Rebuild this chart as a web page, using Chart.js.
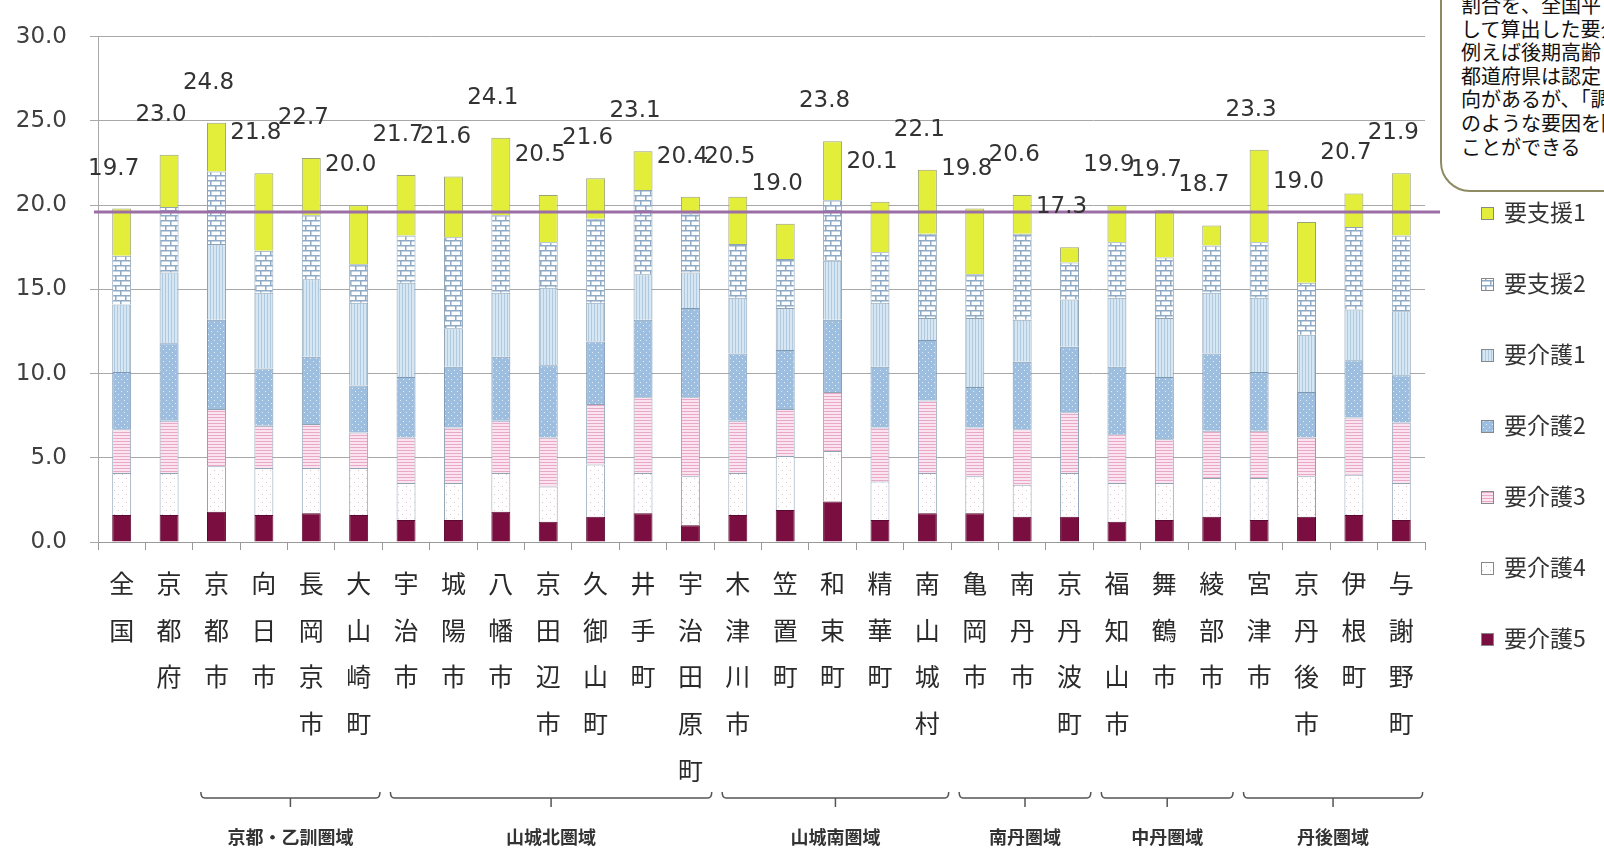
<!DOCTYPE html>
<html lang="ja">
<head>
<meta charset="utf-8">
<title>要介護認定率</title>
<script src="https://cdn.jsdelivr.net/npm/chart.js@4.4.0/dist/chart.umd.min.js"></script>
<style>
  html, body { margin: 0; padding: 0; background: #fff; overflow: hidden; }
  #wrap { position: relative; width: 1604px; height: 850px; }
  #note {
    position: absolute; left: 1440px; top: -40px; width: 260px; height: 232px;
    box-sizing: border-box; border: 2.5px solid #8c8b62; border-radius: 30px;
    background: #fff; padding: 31px 0 0 19px;
    font-family: "Noto Sans CJK JP", sans-serif; font-size: 20px; line-height: 23.6px;
    color: #111; white-space: nowrap;
  }
</style>
</head>
<body>
<div id="wrap">
  <canvas id="chart" width="1604" height="850"></canvas>
  <div id="note">
    <div>割合を、全国平</div>
    <div>して算出した要介</div>
    <div>例えば後期高齢</div>
    <div>都道府県は認定</div>
    <div>向があるが、「調</div>
    <div>のような要因を除</div>
    <div>ことができる</div>
  </div>
</div>
<script>
// 市町村（縦書きラベル）
const categories = ['全国', '京都府', '京都市', '向日市', '長岡京市', '大山崎町', '宇治市', '城陽市',
  '八幡市', '京田辺市', '久御山町', '井手町', '宇治田原町', '木津川市', '笠置町', '和束町', '精華町',
  '南山城村', '亀岡市', '南丹市', '京丹波町', '福知山市', '舞鶴市', '綾部市', '宮津市', '京丹後市',
  '伊根町', '与謝野町'];

// 要介護度別の認定率（%）下から順に積み上げ
const kaigo5 = [1.6, 1.6, 1.8, 1.6, 1.7, 1.6, 1.3, 1.3, 1.8, 1.2, 1.5, 1.7, 1.0, 1.6, 1.9, 2.4, 1.3, 1.7, 1.7, 1.5, 1.5, 1.2, 1.3, 1.5, 1.3, 1.5, 1.6, 1.3];
const kaigo4 = [2.5, 2.5, 2.7, 2.8, 2.7, 2.8, 2.2, 2.2, 2.3, 2.1, 3.1, 2.4, 2.9, 2.5, 3.2, 3.0, 2.3, 2.4, 2.2, 1.9, 2.6, 2.3, 2.2, 2.3, 2.5, 2.4, 2.4, 2.2];
const kaigo3 = [2.6, 3.1, 3.4, 2.5, 2.6, 2.1, 2.7, 3.3, 3.1, 2.9, 3.6, 4.5, 4.7, 3.1, 2.8, 3.5, 3.2, 4.3, 2.9, 3.3, 3.6, 2.9, 2.6, 2.8, 2.8, 2.3, 3.4, 3.6];
const kaigo2 = [3.4, 4.6, 5.3, 3.4, 4.0, 2.8, 3.6, 3.6, 3.8, 4.3, 3.7, 4.6, 5.3, 4.0, 3.5, 4.3, 3.6, 3.6, 2.4, 4.0, 3.9, 4.0, 3.7, 4.6, 3.5, 2.7, 3.4, 2.8];
const kaigo1 = [4.0, 4.2, 4.5, 4.5, 4.6, 4.9, 5.6, 2.3, 3.8, 4.6, 2.3, 2.7, 2.1, 3.3, 2.5, 3.5, 3.8, 1.3, 4.1, 2.5, 2.8, 4.1, 3.5, 3.6, 4.4, 3.4, 3.0, 3.8];
const shien2 = [2.9, 3.9, 4.3, 2.5, 3.8, 2.3, 2.8, 5.4, 4.6, 2.7, 5.0, 5.0, 3.5, 3.2, 2.9, 3.6, 3.0, 5.0, 2.6, 5.1, 2.2, 3.3, 3.6, 2.8, 3.3, 3.1, 4.9, 4.5];
const shien1 = [2.8, 3.1, 2.9, 4.6, 3.4, 3.5, 3.6, 3.6, 4.6, 2.8, 2.4, 2.3, 1.0, 2.8, 2.1, 3.5, 3.0, 3.8, 3.9, 2.3, 0.9, 2.2, 2.8, 1.2, 5.5, 3.6, 2.0, 3.7];

// 棒の上に表示された合計値
const totals = [19.7, 23.0, 24.8, 21.8, 22.7, 20.0, 21.7, 21.6, 24.1, 20.5, 21.6, 23.1, 20.4, 20.5, 19.0,
  23.8, 20.1, 22.1, 19.8, 20.6, 17.3, 19.9, 19.7, 18.7, 23.3, 19.0, 20.7, 21.9];

// 紫の横線
const refLine = 19.6;

// 圏域（カテゴリ番号の範囲）
const regionNames = ['京都・乙訓圏域', '山城北圏域', '山城南圏域', '南丹圏域', '中丹圏域', '丹後圏域'];
const regionFirst = [2, 6, 13, 18, 21, 24];
const regionLast = [5, 12, 17, 20, 23, 27];

const yTicks = [0, 5, 10, 15, 20, 25, 30];

function makePattern(bg, w, h, draw) {
  const c = document.createElement('canvas');
  c.width = w; c.height = h;
  const g = c.getContext('2d');
  g.fillStyle = bg;
  g.fillRect(0, 0, w, h);
  if (draw) draw(g);
  return g.createPattern(c, 'repeat');
}

const fills = {
  shien1: '#e3ee3a',
  shien2: makePattern('#ffffff', 10, 10, g => {
    g.fillStyle = '#8eaac6';
    g.fillRect(0, 0, 10, 1.5);
    g.fillRect(0, 5, 10, 1.5);
    g.fillRect(0, 0, 1.5, 5);
    g.fillRect(5, 5, 1.5, 5);
  }),
  kaigo1: makePattern('#d6e7f3', 3, 3, g => {
    g.fillStyle = '#b0cae0';
    g.fillRect(0, 0, 1, 3);
  }),
  kaigo2: makePattern('#9dbedf', 6, 6, g => {
    g.fillStyle = '#e2eef9';
    g.fillRect(1, 1, 1, 1);
    g.fillRect(4, 4, 1, 1);
  }),
  kaigo3: makePattern('#fbe4ef', 3, 3, g => {
    g.fillStyle = '#e8a9c8';
    g.fillRect(0, 0, 3, 1);
  }),
  kaigo4: makePattern('#ffffff', 8, 8, g => {
    g.fillStyle = '#dcc0cc';
    g.fillRect(2, 2, 1, 1);
    g.fillRect(6, 6, 1, 1);
  }),
  kaigo5: '#7b0e40'
};

const datasets = [
  { label: '要介護5', data: kaigo5, backgroundColor: fills.kaigo5, borderColor: '#5a0a2f' },
  { label: '要介護4', data: kaigo4, backgroundColor: fills.kaigo4, borderColor: '#8fa3b5' },
  { label: '要介護3', data: kaigo3, backgroundColor: fills.kaigo3, borderColor: '#8fa3b5' },
  { label: '要介護2', data: kaigo2, backgroundColor: fills.kaigo2, borderColor: '#7f98b2' },
  { label: '要介護1', data: kaigo1, backgroundColor: fills.kaigo1, borderColor: '#8fa3b5' },
  { label: '要支援2', data: shien2, backgroundColor: fills.shien2, borderColor: '#8fa3b5' },
  { label: '要支援1', data: shien1, backgroundColor: fills.shien1, borderColor: '#9aa27a' }
];
datasets.forEach(d => { d.borderWidth = 1; d.categoryPercentage = 0.8; d.barPercentage = 0.5; });

// 合計値ラベル
const totalLabels = {
  id: 'totalLabels',
  afterDatasetsDraw(chart) {
    const { ctx, scales: { x, y } } = chart;
    ctx.save();
    ctx.font = '23px "DejaVu Sans", sans-serif';
    ctx.fillStyle = '#333';
    ctx.textAlign = 'center';
    ctx.textBaseline = 'middle';
    categories.forEach((c, i) => {
      let sum = 0;
      chart.data.datasets.forEach(d => { sum += d.data[i]; });
      ctx.fillText(totals[i].toFixed(1), x.getPixelForValue(i) - 8, y.getPixelForValue(sum) - 40);
    });
    ctx.restore();
  }
};

// 紫の基準線
const referenceLine = {
  id: 'referenceLine',
  afterDatasetsDraw(chart) {
    const { ctx, chartArea, scales: { y } } = chart;
    const py = y.getPixelForValue(refLine);
    ctx.save();
    ctx.strokeStyle = '#9b6fa6';
    ctx.lineWidth = 3;
    ctx.beginPath();
    ctx.moveTo(chartArea.left - 4, py);
    ctx.lineTo(chartArea.right + 15, py);
    ctx.stroke();
    ctx.restore();
  }
};

// 圏域の括弧と名前
const regionBrackets = {
  id: 'regionBrackets',
  afterDraw(chart) {
    const { ctx, scales: { x } } = chart;
    const w = x.getPixelForValue(1) - x.getPixelForValue(0);
    const by = 798;
    ctx.save();
    ctx.strokeStyle = '#555';
    ctx.lineWidth = 1.5;
    ctx.fillStyle = '#333';
    ctx.font = 'bold 18px "Noto Sans CJK JP", sans-serif';
    ctx.textAlign = 'center';
    ctx.textBaseline = 'middle';
    regionNames.forEach((name, k) => {
      const x0 = x.getPixelForValue(regionFirst[k]) - 0.33 * w;
      const x1 = x.getPixelForValue(regionLast[k]) + 0.45 * w;
      const xm = (x0 + x1) / 2;
      ctx.beginPath();
      ctx.moveTo(x0, by - 6);
      ctx.quadraticCurveTo(x0, by, x0 + 4, by);
      ctx.lineTo(x1 - 4, by);
      ctx.quadraticCurveTo(x1, by, x1, by - 6);
      ctx.moveTo(xm, by);
      ctx.lineTo(xm, by + 9);
      ctx.stroke();
      ctx.fillText(name, xm, 837);
    });
    ctx.restore();
  }
};

// 凡例（右側、上から要支援1）
const sideLegend = {
  id: 'sideLegend',
  afterDraw(chart) {
    const { ctx } = chart;
    const items = chart.data.datasets.slice().reverse();
    ctx.save();
    ctx.font = '23px "Noto Sans CJK JP", sans-serif';
    ctx.textBaseline = 'middle';
    ctx.textAlign = 'left';
    items.forEach((d, k) => {
      const cy = 212 + k * 71;
      ctx.fillStyle = d.backgroundColor;
      ctx.fillRect(1481, cy - 5, 13, 13);
      ctx.strokeStyle = '#888';
      ctx.lineWidth = 1;
      ctx.strokeRect(1481.5, cy - 4.5, 12, 12);
      ctx.fillStyle = '#333';
      ctx.fillText(d.label, 1504, cy);
    });
    ctx.restore();
  }
};

const chart = new Chart(document.getElementById('chart'), {
  type: 'bar',
  data: {
    labels: categories.map(c => Array.from(c)),
    datasets: datasets
  },
  options: {
    responsive: false,
    animation: false,
    layout: { padding: { top: 29, right: 179, left: 0, bottom: 0 } },
    plugins: {
      legend: { display: false },
      tooltip: { enabled: false }
    },
    scales: {
      x: {
        stacked: true,
        grid: { drawOnChartArea: false, tickLength: 8, color: '#999' },
        border: { color: '#999' },
        ticks: {
          autoSkip: false, maxRotation: 0, minRotation: 0, padding: 10,
          color: '#2a2a2a',
          font: { family: '"Noto Sans CJK JP", sans-serif', size: 25, lineHeight: 46.7 / 25 }
        },
        afterFit(scale) { scale.height = 308; }
      },
      y: {
        stacked: true,
        min: 0, max: 30,
        afterBuildTicks(scale) { scale.ticks = yTicks.map(v => ({ value: v })); },
        grid: { color: '#a8a8a8', tickLength: 8 },
        border: { color: '#a8a8a8' },
        ticks: {
          padding: 23, color: '#404040',
          font: { family: '"DejaVu Sans", sans-serif', size: 23 },
          callback: v => v.toFixed(1)
        },
        afterFit(scale) { scale.width = 98; }
      }
    }
  },
  plugins: [referenceLine, totalLabels, regionBrackets, sideLegend]
});

// 上端の余白を目標位置に合わせる
const shift = chart.chartArea.top - 29;
if (Math.abs(shift) > 0.5) {
  chart.options.layout.padding.top -= shift;
  chart.update();
}
</script>
</body>
</html>
